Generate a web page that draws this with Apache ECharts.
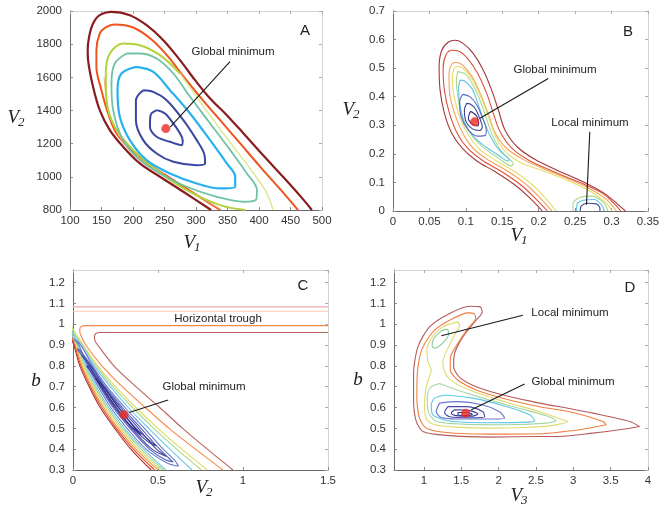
<!DOCTYPE html>
<html><head><meta charset="utf-8">
<script src="https://cdn.jsdelivr.net/npm/echarts@6/dist/echarts.min.js"></script>
<style>html,body{margin:0;padding:0;background:#fff}#c{width:671px;height:507px}</style>
</head><body><div id="c"></div>
<script>
// ---------- Panel A (V1, V2) ----------
const A_darkred = [[324,800],[279.9,910],[242.8,1000.3],[210.9,1080.7],[184.4,1181.1],[163.2,1281.6],[147.2,1402.1],[136.6,1542.8],[128.7,1703.5],[128.1,1763.8],[130.3,1844.1],[136.6,1924.5],[147.2,1974.7],[165.8,1994.8],[195.0,1974.7],[221.6,1914.4],[248.1,1824],[274.6,1703.5],[298.5,1582.9],[322.4,1472.4],[348.9,1372],[375.5,1261.5],[407.3,1126.9],[439.2,996.3],[465.7,883.8],[484,800]];
const A_orange = [[338.3,800],[301.2,889.9],[264,980.2],[226.9,1070.6],[197.7,1161],[173.8,1261.5],[160.5,1382],[149.9,1522.7],[141.9,1663.3],[141.9,1763.8],[147.2,1864.2],[156,1900],[171.1,1918.4],[200.3,1900.4],[229.5,1828],[256.1,1723.6],[282.6,1593],[310.7,1462.4],[338.3,1341.9],[370.2,1201.2],[402,1060.6],[433.9,924],[462,799.4]];
const A_salmon = [[341,800],[305,880],[268,960],[233,1040],[204,1120],[182,1220],[168,1320],[160,1420],[156,1520],[154,1600]];
const A_ygreen = [[378.1,800],[338.3,829.6],[285.2,920],[237.5,1040.5],[200.3,1161],[171.1,1301.7],[157.9,1462.4],[156.8,1623.1],[163.2,1743.7],[184.4,1803.9],[210.9,1793.9],[242.8,1733.6],[274.6,1623.1]];
const A_pale = [[274.6,1623.1],[301.2,1482.5],[327.7,1341.9],[359.6,1181.1],[391.4,1020.4],[412.6,899.9],[422.2,800]];
const A_teal = [[189.7,1743.7],[171.1,1683.4],[165.8,1562.9],[168.5,1402.1],[181.7,1241.4],[205.6,1120.9],[242.8,1020.4],[285.2,940.1],[333,879.8],[375.5,849.7],[395.7,863.7],[396.7,920],[380.8,1020.4],[354.3,1161],[322.4,1321.8],[290.6,1482.5],[264,1623.1],[237.5,1713.5],[210.9,1743.7],[189.7,1743.7]];
const A_cyan = [[205.6,1663.3],[181.7,1623.1],[175.4,1522.7],[179.1,1361.9],[195,1221.3],[221.6,1100.8],[258.7,1020.4],[301.2,960.2],[338.3,930],[362.2,940.1],[362.2,1000.3],[348.9,1080.7],[322.4,1221.3],[290.6,1382],[258.7,1522.7],[232.2,1633.2],[205.6,1663.3]];
const A_blue = [[216.2,1522.7],[204.6,1462.4],[204.6,1341.9],[216.2,1221.3],[237.5,1140.9],[264,1090.7],[301.2,1070.6],[314.4,1080.7],[312.8,1140.9],[301.2,1221.3],[279.9,1341.9],[253.4,1462.4],[232.2,1512.6],[216.2,1522.7]];
const A_blue2 = [[237.5,1402.1],[227.9,1372],[226.9,1301.7],[237.5,1241.4],[258.7,1211.3],[277.3,1191.2],[278.9,1221.3],[274.6,1261.5],[264,1321.8],[250.7,1382],[237.5,1402.1]];
const A_min = [[252,1291]];
const A_arrow = [[354,1694],[259,1300]];

// ---------- Panel B (V1, V2) ----------
const B_c1 = [[0.205,0],[0.19,0.04],[0.168,0.09],[0.14,0.138],[0.115,0.175],[0.095,0.22],[0.081,0.27],[0.0706,0.3419],[0.0646,0.4232],[0.0633,0.5045],[0.0669,0.5626],[0.0761,0.5917],[0.0852,0.5975],[0.0966,0.5859],[0.1103,0.551],[0.124,0.4929],[0.1354,0.4232],[0.1446,0.3535],[0.1537,0.2838],[0.170,0.2257],[0.195,0.18],[0.226,0.142],[0.26,0.103],[0.291,0.06],[0.309,0.0223],[0.319,0]];
const B_c2 = [[0.212,0],[0.197,0.04],[0.176,0.09],[0.149,0.138],[0.124,0.175],[0.103,0.218],[0.089,0.268],[0.0775,0.3419],[0.0705,0.4232],[0.0688,0.4987],[0.0724,0.5452],[0.0806,0.5626],[0.0898,0.5603],[0.1025,0.5336],[0.1162,0.4813],[0.1286,0.4116],[0.1377,0.3419],[0.1469,0.278],[0.163,0.2199],[0.187,0.1769],[0.22,0.1385],[0.256,0.1002],[0.287,0.063],[0.3035,0.0258],[0.3126,0]];
const B_c3 = [[0.218,0],[0.204,0.04],[0.184,0.09],[0.158,0.138],[0.133,0.175],[0.111,0.217],[0.097,0.266],[0.0845,0.3419],[0.0775,0.4175],[0.0769,0.4813],[0.0806,0.5139],[0.0861,0.5208],[0.0952,0.5115],[0.108,0.472],[0.1203,0.4081],[0.1309,0.3384],[0.14,0.2745],[0.1545,0.2222],[0.178,0.1815],[0.205,0.15],[0.238,0.115],[0.27,0.078],[0.293,0.04],[0.3067,0]];
const B_c4 = [[0.224,0],[0.211,0.04],[0.192,0.09],[0.167,0.138],[0.142,0.175],[0.119,0.216],[0.104,0.264],[0.0915,0.33],[0.0835,0.4058],[0.0815,0.4674],[0.0838,0.4988],[0.0884,0.5057],[0.0966,0.4988],[0.1089,0.4604],[0.1208,0.3977],[0.1309,0.3303],[0.14,0.2664],[0.1528,0.2118],[0.1747,0.1699],[0.2085,0.1385],[0.2428,0.1036],[0.2725,0.0664],[0.2916,0.0304],[0.3007,0]];
const B_c5 = [[0.0889,0.4879],[0.087,0.46],[0.089,0.40],[0.095,0.33],[0.108,0.266],[0.125,0.22],[0.145,0.185],[0.162,0.158],[0.165,0.165],[0.158,0.185],[0.147,0.215],[0.137,0.262],[0.128,0.325],[0.119,0.39],[0.11,0.44],[0.1,0.478],[0.0889,0.4879]];
const B_c6 = [[0.0921,0.4581],[0.09,0.43],[0.092,0.37],[0.098,0.31],[0.11,0.262],[0.127,0.225],[0.145,0.195],[0.158,0.175],[0.159,0.182],[0.151,0.2],[0.142,0.225],[0.133,0.265],[0.124,0.32],[0.116,0.38],[0.108,0.43],[0.098,0.455],[0.0921,0.4581]];
const B_c7 = [[0.0957,0.4081],[0.0915,0.3826],[0.0935,0.3303],[0.103,0.285],[0.116,0.262],[0.127,0.265],[0.128,0.285],[0.123,0.3245],[0.115,0.371],[0.1058,0.3994],[0.0957,0.4081]];
const B_c8 = [[0.1012,0.3768],[0.098,0.3536],[0.1003,0.3129],[0.1089,0.2875],[0.119,0.282],[0.1225,0.295],[0.119,0.3245],[0.1126,0.3594],[0.1058,0.3745],[0.1012,0.3768]];
const B_c9 = [[0.1058,0.3477],[0.1035,0.3245],[0.1089,0.3038],[0.116,0.2975],[0.1175,0.3088],[0.1148,0.3327],[0.1089,0.3454],[0.1058,0.3477]];
const B_l1 = [[0.2473,0],[0.247,0.025],[0.257,0.047],[0.272,0.052],[0.288,0.032],[0.295,0]];
const B_l2 = [[0.252,0],[0.2525,0.022],[0.262,0.038],[0.276,0.04],[0.286,0.022],[0.29,0]];
const B_l3 = [[0.257,0],[0.258,0.016],[0.268,0.027],[0.279,0.025],[0.284,0.01],[0.284,0]];
const B_min = [[0.112,0.312]];
const B_arrowG = [[0.2131,0.4639],[0.1194,0.3245]];
const B_arrowL = [[0.2701,0.2775],[0.2656,0.022]];

// ---------- Panel C (V2, b) ----------
const C_hPink = [[0,1.083],[1.5,1.083]];
const C_hOrange = [[0,1.062],[1.5,1.062]];
const C_troughOrange = [[1.5,0.993],[0.08,0.993],[0.05,0.99],[0.04,0.975],[0.042,0.955],[0.075,0.9],[0.17,0.8],[0.29,0.7],[0.425,0.6],[0.565,0.5],[0.72,0.4],[0.882,0.3]];
const C_troughBrown = [[1.5,0.96],[0.16,0.96],[0.135,0.955],[0.126,0.94],[0.13,0.92],[0.145,0.9],[0.24,0.8],[0.37,0.7],[0.51,0.6],[0.645,0.5],[0.79,0.4],[0.941,0.3]];
const C_darkredL = [[0.46,0.3],[0.34,0.4],[0.245,0.5],[0.16,0.6],[0.095,0.7],[0.04,0.8],[0.005,0.9],[-0.01,0.93]];
const C_redL = [[0.48,0.3],[0.355,0.4],[0.255,0.5],[0.17,0.6],[0.103,0.7],[0.047,0.8],[0.01,0.9],[-0.01,0.95]];
const C_orangeL = [[0.5,0.3],[0.37,0.4],[0.266,0.5],[0.18,0.6],[0.111,0.7],[0.054,0.8],[0.015,0.9],[-0.01,0.96]];
const C_yellow = [[0.515,0.3],[0.385,0.4],[0.278,0.5],[0.19,0.6],[0.12,0.7],[0.061,0.8],[0.02,0.9],[-0.01,0.98],[-0.01,0.99],[0.02,0.95],[0.06,0.9],[0.145,0.8],[0.25,0.7],[0.37,0.6],[0.5,0.5],[0.64,0.4],[0.79,0.3]];
const C_green = [[0.53,0.3],[0.4,0.4],[0.29,0.5],[0.2,0.6],[0.128,0.7],[0.068,0.8],[0.025,0.9],[-0.01,0.97],[-0.01,0.98],[0.018,0.94],[0.055,0.9],[0.135,0.8],[0.235,0.7],[0.35,0.6],[0.475,0.5],[0.61,0.4],[0.755,0.3]];
const C_cyan = [[0.545,0.3],[0.415,0.4],[0.302,0.5],[0.21,0.6],[0.137,0.7],[0.076,0.8],[0.03,0.9],[-0.01,0.96],[-0.01,0.97],[0.015,0.935],[0.048,0.9],[0.125,0.8],[0.22,0.7],[0.325,0.6],[0.445,0.5],[0.57,0.4],[0.7,0.3]];
const C_blue1 = [[0.005,0.93],[0.035,0.9],[0.085,0.8],[0.148,0.7],[0.222,0.6],[0.318,0.5],[0.43,0.4],[0.55,0.335],[0.62,0.318],[0.6,0.345],[0.53,0.4],[0.42,0.5],[0.305,0.6],[0.2,0.7],[0.115,0.8],[0.045,0.9],[0.005,0.93]];
const C_blue2 = [[0.025,0.88],[0.093,0.8],[0.158,0.7],[0.236,0.6],[0.335,0.5],[0.45,0.4],[0.54,0.35],[0.59,0.338],[0.56,0.36],[0.51,0.4],[0.40,0.5],[0.29,0.6],[0.19,0.7],[0.108,0.8],[0.04,0.875],[0.025,0.88]];
const C_blue3 = [[0.05,0.85],[0.098,0.8],[0.163,0.7],[0.243,0.6],[0.345,0.5],[0.465,0.4],[0.55,0.365],[0.525,0.38],[0.49,0.4],[0.385,0.5],[0.28,0.6],[0.182,0.7],[0.105,0.8],[0.06,0.845],[0.05,0.85]];
const C_blue4 = [[0.08,0.8],[0.168,0.7],[0.25,0.6],[0.352,0.5],[0.45,0.43],[0.49,0.415],[0.46,0.435],[0.37,0.5],[0.27,0.6],[0.178,0.7],[0.095,0.795],[0.08,0.8]];
const C_blue5 = [[0.13,0.74],[0.168,0.7],[0.255,0.6],[0.33,0.52],[0.40,0.47],[0.345,0.52],[0.266,0.6],[0.18,0.7],[0.14,0.735],[0.13,0.74]];
const C_min = [[0.30,0.565]];
const C_arrow = [[0.56,0.636],[0.33,0.576]];

// ---------- Panel D (V3, b) ----------
const D_darkred = [[3.888,0.509],[3.62,0.493],[3.262,0.477],[2.817,0.461],[2.549,0.461],[1.88,0.458],[1.30,0.466],[0.987,0.485],[0.898,0.533],[0.862,0.636],[0.862,0.764],[0.92,0.891],[1.076,0.987],[1.344,1.051],[1.612,1.086],[1.755,1.083],[1.781,1.059],[1.679,1.011],[1.522,0.939],[1.411,0.86],[1.398,0.796],[1.478,0.745],[1.701,0.70],[2.103,0.656],[2.549,0.621],[2.995,0.592],[3.262,0.573],[3.754,0.533],[3.888,0.509]];
const D_orange = [[3.442,0.517],[3.084,0.493],[2.817,0.482],[2.549,0.474],[1.88,0.472],[1.30,0.48],[1.032,0.501],[0.942,0.549],[0.906,0.652],[0.912,0.764],[0.979,0.884],[1.143,0.971],[1.388,1.027],[1.589,1.054],[1.679,1.048],[1.692,1.027],[1.589,0.979],[1.455,0.908],[1.353,0.836],[1.353,0.78],[1.455,0.732],[1.701,0.684],[2.103,0.64],[2.549,0.604],[2.995,0.576],[3.397,0.533],[3.442,0.517]];
const D_yellow = [[1.455,1.011],[1.254,0.987],[1.099,0.932],[1.04,0.876],[1.054,0.82],[1.099,0.78],[1.067,0.74],[1.023,0.684],[1.009,0.604],[1.04,0.541],[1.143,0.517],[1.434,0.506],[1.88,0.501],[2.325,0.504],[2.683,0.512],[2.928,0.533],[2.861,0.54],[2.549,0.58],[2.103,0.625],[1.612,0.684],[1.367,0.729],[1.277,0.772],[1.254,0.82],[1.321,0.884],[1.411,0.947],[1.478,0.995],[1.455,1.011]];
const D_green = [[1.21,0.715],[1.099,0.70],[1.054,0.675],[1.045,0.636],[1.067,0.573],[1.166,0.533],[1.522,0.52],[2.103,0.517],[2.639,0.525],[2.772,0.536],[2.639,0.56],[2.237,0.6],[1.79,0.645],[1.434,0.685],[1.21,0.715]];
const D_cyan = [[1.30,0.66],[1.143,0.645],[1.099,0.612],[1.12,0.565],[1.344,0.535],[1.88,0.527],[2.415,0.53],[2.482,0.536],[2.415,0.565],[2.103,0.605],[1.656,0.645],[1.30,0.66]];
const D_blue = [[1.21,0.621],[1.434,0.628],[1.79,0.612],[2.013,0.58],[2.08,0.549],[1.88,0.545],[1.434,0.545],[1.233,0.552],[1.166,0.58],[1.21,0.621]];
const D_dblue1 = [[1.321,0.604],[1.568,0.604],[1.79,0.58],[1.813,0.556],[1.612,0.551],[1.344,0.556],[1.277,0.576],[1.321,0.604]];
const D_dblue2 = [[1.411,0.589],[1.612,0.585],[1.723,0.569],[1.635,0.558],[1.434,0.561],[1.367,0.573],[1.411,0.589]];
const D_dblue3 = [[1.455,0.576],[1.589,0.576],[1.648,0.567],[1.545,0.562],[1.455,0.566],[1.455,0.576]];
const D_local = [[1.233,0.968],[1.31,0.975],[1.33,0.95],[1.254,0.91],[1.15,0.885],[1.11,0.895],[1.13,0.93],[1.233,0.968]];
const D_min = [[1.558,0.573]];
const D_arrowL = [[2.325,1.043],[1.233,0.944]];
const D_arrowG = [[2.348,0.713],[1.635,0.589]];

// ---------- tick settings ----------
const A_xTicks = {min:100, max:500, interval:50};
const A_yTicks = {min:800, max:2000, interval:200};
const B_xTicks = {min:0, max:0.35, interval:0.05};
const B_yTicks = {min:0, max:0.7, interval:0.1};
const C_xTicks = {min:0, max:1.5, interval:0.5};
const CD_yTicks = {min:0.3, max:1.26, interval:0.1};
const D_xTicks = {min:0.6, max:4};

// ---------- layout ----------
const grids = [
  {left:70, top:11, width:252, height:199},
  {left:393, top:11, width:255, height:200},
  {left:73, top:270, width:255, height:200},
  {left:394, top:270, width:254, height:200}
];
const labelFont = {color:'#333', fontSize:11.5, fontFamily:'Liberation Sans, Arial, sans-serif'};
const plainNum = v => String(+v.toFixed(6));

const xAxes = [], yAxes = [];
function addAxes(g, xt, yt, extraX, extraY) {
  const baseX = Object.assign({type:'value', gridIndex:g, splitLine:{show:false}}, xt);
  const baseY = Object.assign({type:'value', gridIndex:g, splitLine:{show:false}}, yt);
  xAxes.push(Object.assign({}, baseX, {position:'bottom',
    axisLine:{show:true,onZero:false,lineStyle:{color:'#6a6a6a',width:1}},
    axisTick:{show:true,inside:true,length:3,lineStyle:{color:'#888'}},
    axisLabel:Object.assign({margin:5, formatter:plainNum, showMinLabel: extraX.showMin !== false, showMaxLabel:true}, labelFont)}));
  xAxes.push(Object.assign({}, baseX, {position:'top',
    axisLine:{show:true,onZero:false,lineStyle:{color:'#d4d4d4',width:1}},
    axisTick:{show:true,inside:true,length:3,lineStyle:{color:'#aaa'}},
    axisLabel:{show:false}}));
  yAxes.push(Object.assign({}, baseY, {position:'left',
    axisLine:{show:true,onZero:false,lineStyle:{color:'#6a6a6a',width:1}},
    axisTick:{show:true,inside:true,length:3,lineStyle:{color:'#888'}},
    axisLabel:Object.assign({margin:8, formatter:plainNum, showMaxLabel: extraY.showMax !== false}, labelFont)}));
  yAxes.push(Object.assign({}, baseY, {position:'right',
    axisLine:{show:true,onZero:false,lineStyle:{color:'#d4d4d4',width:1}},
    axisTick:{show:true,inside:true,length:3,lineStyle:{color:'#aaa'}},
    axisLabel:{show:false}}));
}
addAxes(0, A_xTicks, A_yTicks, {}, {});
addAxes(1, B_xTicks, B_yTicks, {}, {});
addAxes(2, C_xTicks, CD_yTicks, {}, {showMax:false});
addAxes(3, D_xTicks, CD_yTicks, {showMin:false}, {showMax:false});

const series = [];
function contour(p, data, color, width, smooth) {
  series.push({type:'line', xAxisIndex:2*p, yAxisIndex:2*p, data:data, showSymbol:false, symbol:'none',
    smooth: smooth === undefined ? 0.35 : smooth, clip:true, silent:true, animation:false,
    lineStyle:{color:color, width:width}, z:2});
}
function minimum(p, pt, arrows) {
  series.push({type:'scatter', xAxisIndex:2*p, yAxisIndex:2*p, data:pt, symbolSize:9, silent:true, animation:false,
    itemStyle:{color:'#ec2a24'}, z:5,
    markLine:{silent:true, animation:false, symbol:['none','arrow'], symbolSize:[0,8], label:{show:false},
      lineStyle:{color:'#1a1a1a', width:1.1, type:'solid'},
      data: arrows.map(a => [{coord:a[0]},{coord:a[1]}])}});
}

// A
contour(0, A_darkred, '#8a1c1f', 2.2);
contour(0, A_orange, '#f1541f', 2);
contour(0, A_salmon, '#f9a27a', 1);
contour(0, A_ygreen, '#b3d33c', 2);
contour(0, A_pale, '#d8e88e', 1.4);
contour(0, A_teal, '#6fc3a3', 1.8);
contour(0, A_cyan, '#27b2ef', 2.2);
contour(0, A_blue, '#3a47a0', 2);
contour(0, A_blue2, '#3a47a0', 2);
minimum(0, A_min, [A_arrow]);

// B
contour(1, B_c1, '#a23a3c', 1.1);
contour(1, B_c2, '#dc4e3a', 1.1);
contour(1, B_c3, '#f3a25a', 1.1);
contour(1, B_c4, '#e4de66', 1.1);
contour(1, B_c5, '#a9d88c', 1.1);
contour(1, B_c6, '#63c3e6', 1.1);
contour(1, B_c7, '#5b6cc4', 1.1);
contour(1, B_c8, '#3f4399', 1.1);
contour(1, B_c9, '#2d2b7c', 1.1);
contour(1, B_l1, '#a9d88c', 1.1);
contour(1, B_l2, '#63c3e6', 1.1);
contour(1, B_l3, '#3f4399', 1.1);
minimum(1, B_min, [B_arrowG, B_arrowL]);

// C
contour(2, C_hPink, '#e9aaa8', 1.1, 0);
contour(2, C_hOrange, '#f7ccb0', 1.1, 0);
contour(2, C_troughOrange, '#f4894a', 1.1, 0.25);
contour(2, C_troughBrown, '#b8625e', 1.1, 0.25);
contour(2, C_darkredL, '#b03228', 1.1);
contour(2, C_redL, '#e24a30', 1.1);
contour(2, C_orangeL, '#f29a48', 1.1);
contour(2, C_yellow, '#e3d95a', 1.1);
contour(2, C_green, '#a6d892', 1.1);
contour(2, C_cyan, '#6cc8e8', 1.1);
contour(2, C_blue1, '#6a7ad0', 1.1);
contour(2, C_blue2, '#5560b8', 1.1);
contour(2, C_blue3, '#4a4ea8', 1.1);
contour(2, C_blue4, '#3e3f9a', 1.1);
contour(2, C_blue5, '#33308a', 1.1);
minimum(2, C_min, [C_arrow]);

// D
contour(3, D_darkred, '#b55a5a', 1.1, 0.25);
contour(3, D_orange, '#f07e3e', 1.1, 0.25);
contour(3, D_yellow, '#dedb6e', 1.1, 0.25);
contour(3, D_green, '#a6d7a0', 1.1, 0.25);
contour(3, D_cyan, '#5fc6e8', 1.1, 0.25);
contour(3, D_blue, '#6676cc', 1.1, 0.3);
contour(3, D_dblue1, '#4a4aa8', 1.1, 0.3);
contour(3, D_dblue2, '#3c3a98', 1.1, 0.3);
contour(3, D_dblue3, '#30308a', 1.1, 0.3);
contour(3, D_local, '#88c898', 1.1, 0.3);
minimum(3, D_min, [D_arrowL, D_arrowG]);

// ---------- texts ----------
const serif = 'Liberation Serif, DejaVu Serif, serif';
const sans = 'Liberation Sans, Arial, sans-serif';
const graphics = [];
function txt(x, y, s, size, align) {
  graphics.push({type:'text', x:x, y:y, silent:true, style:{text:s, fill:'#222', font: size + 'px ' + sans, textAlign: align || 'center', textVerticalAlign:'middle'}});
}
function axName(x, y, main, sub) {
  graphics.push({type:'text', x:x, y:y, silent:true, style:{text:main, fill:'#222', font:'italic 19px ' + serif, textAlign: sub ? 'right' : 'center', textVerticalAlign:'middle'}});
  if (sub) graphics.push({type:'text', x:x - 1, y:y + 5, silent:true, style:{text:sub, fill:'#222', font:'italic 13px ' + serif, textAlign:'left', textVerticalAlign:'middle'}});
}
txt(233, 52, 'Global minimum', 11.5);
txt(305, 31, 'A', 15);
txt(555, 70, 'Global minimum', 11.5);
txt(590, 123, 'Local minimum', 11.5);
txt(628, 32, 'B', 15);
txt(204, 387, 'Global minimum', 11.5);
txt(218, 319, 'Horizontal trough', 11.5);
txt(303, 286, 'C', 15);
txt(570, 313, 'Local minimum', 11.5);
txt(573, 382, 'Global minimum', 11.5);
txt(630, 288, 'D', 15);
axName(195, 243, 'V', '1');
axName(19, 118, 'V', '2');
axName(522, 236, 'V', '1');
axName(354, 110, 'V', '2');
axName(207, 488, 'V', '2');
axName(36, 381, 'b');
axName(522, 496, 'V', '3');
axName(358, 380, 'b');

const chart = echarts.init(document.getElementById('c'), null, {renderer:'canvas'});
chart.setOption({
  animation:false,
  backgroundColor:'#ffffff',
  grid: grids,
  xAxis: xAxes,
  yAxis: yAxes,
  series: series,
  graphic: graphics
});
</script></body></html>
